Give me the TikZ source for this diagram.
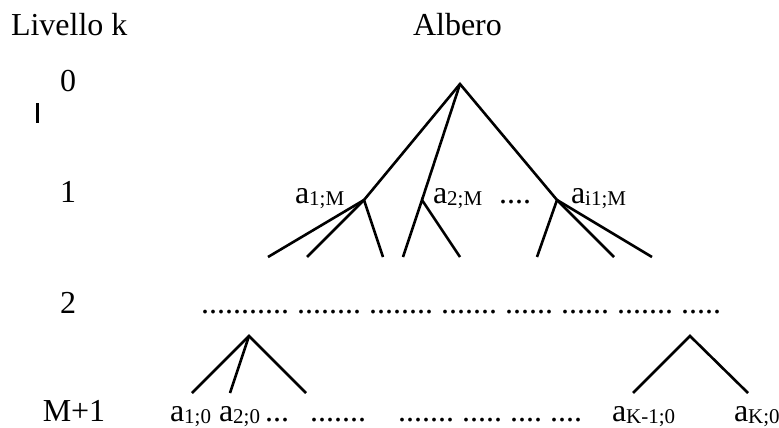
\documentclass[tikz,border=0pt]{standalone}
\usepackage{fontspec}
\setmainfont{Liberation Serif}
\newcommand{\lsub}[1]{\raisebox{-2.5pt}{\fontsize{21}{21}\selectfont #1}}
\frenchspacing
\begin{document}
\begin{tikzpicture}[x=1pt,y=-1pt,
  txt/.style={anchor=base west,inner sep=0pt,outer sep=0pt,font=\fontsize{32}{34}\selectfont\frenchspacing},
  ctxt/.style={txt,anchor=base},
  edge/.style={line width=2.6pt,line cap=butt,line join=miter}]
\useasboundingbox (0,0) rectangle (779,428);
% headers
\node[txt] (hlev) at (11,36) {Livello k};
\node[txt] (htree) at (413,36) {Albero};
% level numbers
\node[ctxt] (k0) at (68,92) {0};
\node[ctxt] (k1) at (68,202) {1};
\node[ctxt] (k2) at (68,313) {2};
\node[ctxt] (kM) at (74,421) {M+1};
\coordinate (bart) at (37,103);
\coordinate (barb) at (37,123);
\draw[line width=3pt] (bart) -- (barb);
% tree points
\coordinate (R) at (460,84);
\coordinate (n1) at (364,200);
\coordinate (n2) at (422,200);
\coordinate (n3) at (557,200);
\coordinate (l11) at (268,257);
\coordinate (l12) at (307,257);
\coordinate (l13) at (383,257);
\coordinate (l21) at (403,257);
\coordinate (l22) at (460,257);
\coordinate (l31) at (537,257);
\coordinate (l32) at (614,257);
\coordinate (l33) at (652,257);
\coordinate (b1) at (249,336);
\coordinate (b11) at (192,393);
\coordinate (b12) at (230,393);
\coordinate (b13) at (306,393);
\coordinate (b2) at (690,336);
\coordinate (b21) at (633,393);
\coordinate (b22) at (748,393);
% tree edges
\draw[edge] (n1) -- (R) -- (n3);
\draw[edge] (R) -- (n2);
\draw[edge] (l11) -- (n1) -- (l13);
\draw[edge] (n1) -- (l12);
\draw[edge] (l21) -- (n2) -- (l22);
\draw[edge] (l31) -- (n3) -- (l33);
\draw[edge] (n3) -- (l32);
\draw[edge] (b11) -- (b1) -- (b13);
\draw[edge] (b1) -- (b12);
\draw[edge] (b21) -- (b2) -- (b22);
% level 1 labels
\node[txt] (a1M) at (295,203) {a\lsub{1;M}};
\node[txt] (a2M) at (433,203) {a\lsub{2;M}};
\node[txt] (d1) at (499,203) {....};
\node[txt] (ai1M) at (571,203) {a\lsub{i1;M}};
% level 2 dots
\node[txt] (row2) at (201,313) {........... ........ ........ ....... ...... ...... ....... .....};
% bottom row
\node[txt] (a10) at (170,421) {a\lsub{1;0}};
\node[txt] (a20) at (219,421) {a\lsub{2;0}};
\node[txt] (d2) at (265,421) {...};
\node[txt] (d3) at (310,421) {.......};
\node[txt] (d4) at (398,421) {....... ..... .... ....};
\node[txt] (aK1) at (612,421) {a\lsub{K-1;0}};
\node[txt] (aK) at (734,421) {a\lsub{K;0}};
\end{tikzpicture}
\end{document}
